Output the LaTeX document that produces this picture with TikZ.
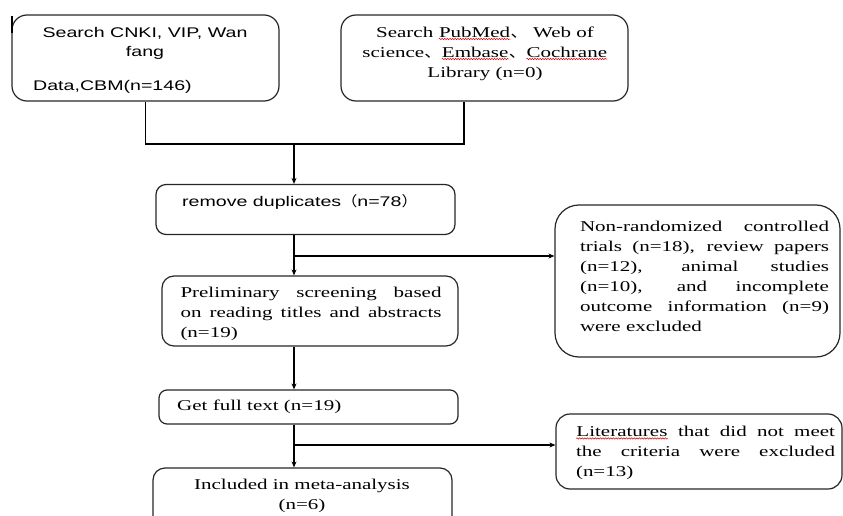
\documentclass[tikz,border=0pt]{standalone}
\usepackage{fontspec}
\usepackage{xcolor}
\usetikzlibrary{arrows.meta,calc,decorations.pathmorphing}
\setmainfont{Liberation Serif}[FakeStretch=1.4]
\setsansfont{Liberation Sans}[FakeStretch=1.4]
\newfontfamily\cjk{Noto Sans CJK SC}[FakeStretch=1.15]
% red wavy underline, as a spell checker draws it
\newcommand\redwave[1]{\tikz[baseline=(w.base)]{\node[inner sep=0pt] (w) {#1};
  \draw[red!85!black,line width=0.5pt,decorate,decoration={snake,amplitude=0.7pt,segment length=2.6pt}]
    ([yshift=-1.5pt]w.south west) -- ([yshift=-1.5pt]w.south east);}}
\begin{document}
\begin{tikzpicture}[x=1pt,y=-1pt,
  box/.style={draw=black!85,line width=1.2pt,rounded corners=#1,inner sep=0pt},
  box/.default=12pt,
  serif/.style={font=\fontsize{15}{20}\selectfont,inner sep=0pt},
  sans/.style={font=\sffamily\fontsize{14}{20}\selectfont,inner sep=0pt},
  link/.style={line width=1.2pt,draw=black},
  arr/.style={link,-{Stealth[length=6pt,width=5pt]}}]
\clip (0,0) rectangle (843,516);

% boxes
\node[box=15pt,minimum width=267pt,minimum height=86pt] (b1) at (145.5,58) {};
\node[box=15pt,minimum width=287pt,minimum height=86pt] (b2) at (484.5,58) {};
\node[box=10pt,minimum width=299pt,minimum height=50pt] (b3) at (305.5,209.5) {};
\node[box=12pt,minimum width=296pt,minimum height=70pt] (b4) at (310,311) {};
\node[box=24pt,minimum width=285pt,minimum height=152pt] (b5) at (697.5,281) {};
\node[box=8pt,minimum width=299pt,minimum height=34pt] (b6) at (308.5,407) {};
\node[box=12pt,minimum width=299pt,minimum height=70pt] (b7) at (302.5,503) {};
\node[box=14pt,minimum width=286pt,minimum height=75pt] (b8) at (699,451.5) {};

% short stroke above the first box's left edge
\draw[line width=1.1pt] (12,33) -- (12,16);

% box texts
\node[sans,align=center] (t1a) at (145,33) {Search CNKI, VIP, Wan};
\node[sans,align=center] (t1b) at (145,53) {fang};
\node[sans,anchor=west] (t1c) at (33,87) {Data,CBM(n=146)};
\node[serif,align=center] (t2) at (485,53.5)
  {Search \redwave{PubMed}{\cjk 、} Web of\\
   science{\cjk 、}\redwave{Embase}{\cjk 、}\redwave{Cochrane}\\
   Library (n=0)};
\node[sans,anchor=west] (t3) at (182,202) {remove duplicates{\cjk （}n=78{\cjk ）}};
\node[serif,text width=261pt,align=justify] (t4) at (311,314)
  {Preliminary screening based\linebreak on reading titles and abstracts\linebreak (n=19)};
\node[serif,text width=249pt,align=justify] (t5) at (704.5,276)
  {Non-randomized controlled\linebreak trials (n=18), review papers\linebreak
   (n=12), animal studies\linebreak (n=10), and incomplete\linebreak
   outcome information (n=9)\linebreak were excluded};
\node[serif,anchor=west] (t6) at (177,407) {Get full text (n=19)};
\node[serif,align=center] (t7) at (302,496) {Included in meta-analysis\\(n=6)};
\node[serif,text width=259pt,align=justify] (t8) at (705.5,453)
  {\redwave{Literatures} that did not meet\linebreak the criteria were excluded\linebreak (n=13)};

% connectors
\coordinate (merge) at (294,144);
\coordinate (spine) at (294,0);
\coordinate (fork1) at (294,256);
\coordinate (fork2) at (294,445);
\draw[link] (b1.south) |- (merge) -| ([xshift=-20.5pt]b2.south);
\draw[arr] (merge) -- (merge |- b3.north);
\draw[arr] (b3.south -| spine) -- (b4.north -| spine);
\draw[arr] (fork1) -- (fork1 -| b5.west);
\draw[arr] (b4.south -| spine) -- (b6.north -| spine);
\draw[arr] (b6.south -| spine) -- (b7.north -| spine);
\draw[arr] (fork2) -- (fork2 -| b8.west);
\end{tikzpicture}
\end{document}
